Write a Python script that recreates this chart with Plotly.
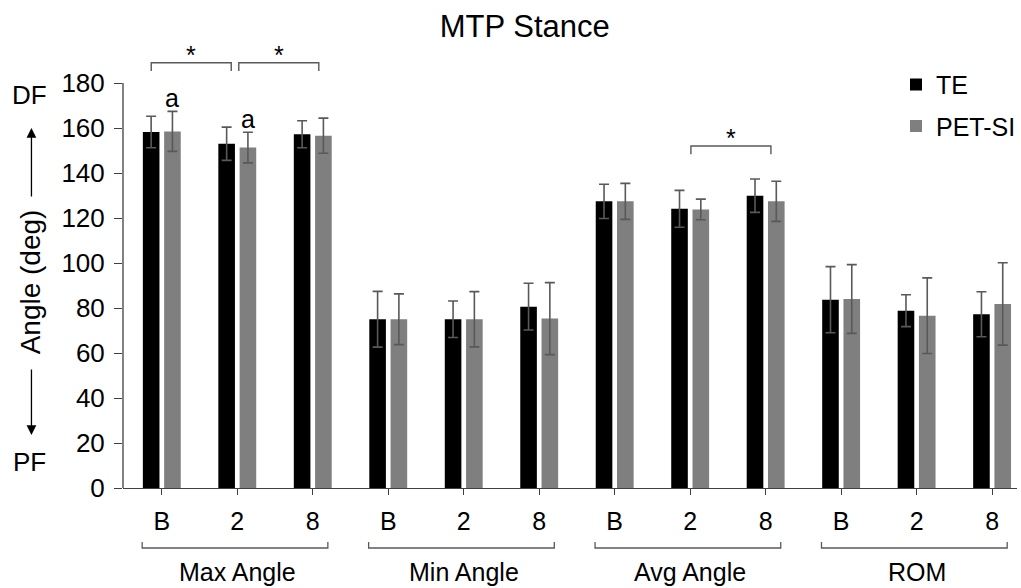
import plotly.graph_objects as go

# ---- data ----
groups = ["Max Angle", "Min Angle", "Avg Angle", "ROM"]
sessions = ["B", "2", "8"]
te = [158.2, 153.0, 157.2, 75.0, 75.0, 80.6, 127.4, 124.1, 129.9, 83.7, 78.8, 77.2]
te_err = [7.0, 7.4, 6.0, 12.4, 8.1, 10.4, 7.6, 8.2, 7.4, 14.7, 7.1, 10.0]
pet = [158.5, 151.3, 156.6, 75.0, 75.0, 75.3, 127.4, 123.8, 127.4, 84.0, 76.6, 81.8]
pet_err = [8.9, 6.8, 7.8, 11.3, 12.3, 16.0, 8.0, 4.6, 8.9, 15.3, 16.8, 18.3]
y_ticks = [0, 20, 40, 60, 80, 100, 120, 140, 160, 180]

# significance brackets (x start, x end in category units) and their height
sig_x = [(-0.14, 0.92), (1.02, 2.08), (7.01, 8.07)]
sig_y = [189, 189, 152]
# "a" marks over PET-SI bars (category index)
a_marks = [0, 1]

FONT = "Liberation Sans, Arial, sans-serif"
AX = "#404040"
ERR = "#595959"
FS = 25

n = len(groups) * len(sessions)
xpos = list(range(n))
ticktext = sessions * len(groups)

fig = go.Figure()
fig.add_bar(x=xpos, y=te, name="TE", marker=dict(color="#000000", line=dict(width=0)),
            error_y=dict(type="data", array=te_err, color=ERR, thickness=1.6, width=5),
            legendgroup="te")
fig.add_bar(x=xpos, y=pet, name="PET-SI", marker=dict(color="#7f7f7f", line=dict(width=0)),
            error_y=dict(type="data", array=pet_err, color=ERR, thickness=1.6, width=5),
            legendgroup="pet")

shapes = []
annotations = []

# y axis line (only up to 180)
shapes.append(dict(type="line", xref="paper", yref="y", x0=0, x1=0, y0=0, y1=y_ticks[-1],
                   line=dict(color=AX, width=1.3)))

# significance brackets on top
drop = 3.7
for (xa, xb), yy in zip(sig_x, sig_y):
    shapes.append(dict(type="path", xref="x", yref="y",
                       path=f"M{xa},{yy-drop} L{xa},{yy} L{xb},{yy} L{xb},{yy-drop}",
                       line=dict(color=ERR, width=1.4)))
    annotations.append(dict(x=(xa + xb) / 2, y=yy, xref="x", yref="y", text="*",
                            showarrow=False, xanchor="center", yanchor="middle", yshift=8,
                            font=dict(size=FS, color="black", family=FONT)))

for i in a_marks:
    annotations.append(dict(x=i + 0.141, y=pet[i] + pet_err[i] + 6, xref="x", yref="y",
                            text="a", showarrow=False, xanchor="center", yanchor="middle",
                            font=dict(size=FS, color="black", family=FONT)))

# group brackets and labels below the axis
for g, name in enumerate(groups):
    xa = 3 * g - 0.26
    xb = 3 * g + 2.2
    shapes.append(dict(type="path", xref="x", yref="paper",
                       path=f"M{xa},-0.12 L{xa},-0.1333 L{xb},-0.1333 L{xb},-0.12",
                       line=dict(color=ERR, width=1.3)))
    annotations.append(dict(x=3 * g + 1, y=-0.187, xref="x", yref="paper", text=name,
                            showarrow=False, xanchor="center", yanchor="middle",
                            font=dict(size=FS, color="black", family=FONT)))

# y-axis title with arrows
annotations += [
    dict(x=-0.1035, y=0.458, xref="paper", yref="paper", text="Angle (deg)", textangle=-90,
         showarrow=False, xanchor="center", yanchor="middle",
         font=dict(size=28, color="black", family=FONT)),
    dict(x=-0.105, y=0.873, xref="paper", yref="paper", text="DF", showarrow=False,
         xanchor="center", yanchor="middle", font=dict(size=26, color="black", family=FONT)),
    dict(x=-0.105, y=0.058, xref="paper", yref="paper", text="PF", showarrow=False,
         xanchor="center", yanchor="middle", font=dict(size=26, color="black", family=FONT)),
    dict(x=-0.1024, y=0.80, xref="paper", yref="paper", text="", showarrow=True,
         ax=0, ay=70, arrowhead=2, arrowsize=1.5, arrowwidth=1.3, arrowcolor="black"),
    dict(x=-0.1024, y=0.118, xref="paper", yref="paper", text="", showarrow=True,
         ax=0, ay=-67, arrowhead=2, arrowsize=1.5, arrowwidth=1.3, arrowcolor="black"),
]

fig.update_layout(
    width=1021, height=588,
    margin=dict(l=123, r=0, t=38, b=100),
    paper_bgcolor="white", plot_bgcolor="white",
    font=dict(family=FONT, size=FS, color="black"),
    title=dict(text="MTP Stance", x=0.514, xref="container", y=0.956, yref="container",
               xanchor="center", yanchor="middle", font=dict(size=31, family=FONT, color="black")),
    barmode="group", bargap=0.436, bargroupgap=0.22,
    showlegend=True,
    legend=dict(x=0.865, y=0.947, xanchor="left", yanchor="top", bgcolor="rgba(0,0,0,0)",
                font=dict(size=25, family=FONT, color="black"),
                traceorder="grouped", tracegroupgap=6),
    shapes=shapes, annotations=annotations,
)
fig.update_xaxes(range=[-0.514, 11.33], tickvals=xpos, ticktext=ticktext,
                 showline=True, linecolor=AX, linewidth=1.3, ticks="outside", ticklen=6,
                 tickcolor=AX, tickwidth=1.3, showgrid=False, zeroline=False,
                 tickfont=dict(size=FS, family=FONT, color="black"), ticklabelstandoff=5)
fig.update_yaxes(range=[0, 200], tickvals=y_ticks, showline=False, ticks="outside", ticklen=8,
                 tickcolor=AX, tickwidth=1.3, showgrid=False, zeroline=False,
                 tickfont=dict(size=26, family=FONT, color="black"), ticklabelstandoff=4)

fig.write_html("out.html", config={"displayModeBar": False},
               post_script="document.body.style.margin='0px';")
